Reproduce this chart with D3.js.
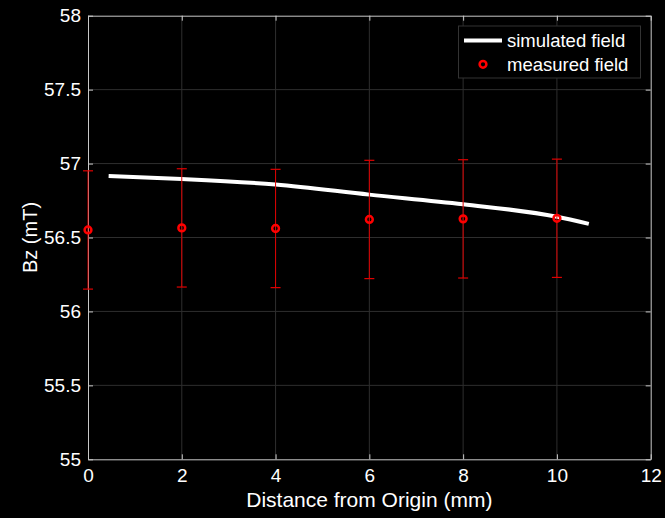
<!DOCTYPE html>
<html>
<head>
<meta charset="utf-8">
<script src="https://cdn.jsdelivr.net/npm/d3@7"></script>
<style>
  html, body { margin: 0; padding: 0; background: #000; }
  text { font-family: "Liberation Sans", Arial, sans-serif; }
</style>
</head>
<body>
<div id="chart"></div>
<script>
// measured points (x in mm, Bz in mT, +/- error)
const measuredX = [0, 2, 4, 6, 8, 10];
const measuredBz = [56.551, 56.565, 56.561, 56.622, 56.626, 56.630];
const measuredErr = [0.40, 0.40, 0.40, 0.40, 0.40, 0.40];

// simulated curve
const simX = [0.44, 2, 4, 6, 8, 10, 10.68];
const simBz = [56.916, 56.896, 56.858, 56.79, 56.725, 56.64, 56.592];

const xTicks = [0, 2, 4, 6, 8, 10, 12];
const yTicks = [55, 55.5, 56, 56.5, 57, 57.5, 58];

let width = 665, height = 518;
const margin = {left: 88, right: 14.3, top: 15.7, bottom: 58.7};

const svg = d3.select("#chart")
    .append("svg")
    .attr("width", width)
    .attr("height", height)
    .style("background", "#000");

const x = d3.scaleLinear().domain([0, 12]).range([margin.left, width - margin.right]);
const y = d3.scaleLinear().domain([55, 58]).range([height - margin.bottom, margin.top]);

const axisColor = "#c8c8c8";
const gridColor = "#2e2e2e";

// grid
svg.append("g")
    .selectAll("line")
    .data(xTicks.slice(1, -1))
    .join("line")
    .attr("x1", d => x(d)).attr("x2", d => x(d))
    .attr("y1", y(55)).attr("y2", y(58))
    .attr("stroke", gridColor).attr("stroke-width", 1);

svg.append("g")
    .selectAll("line")
    .data(yTicks.slice(1, -1))
    .join("line")
    .attr("x1", x(0)).attr("x2", x(12))
    .attr("y1", d => y(d)).attr("y2", d => y(d))
    .attr("stroke", gridColor).attr("stroke-width", 1);

// axes (ticks inward)
const styleAxis = g => {
    g.select(".domain").attr("stroke", axisColor);
    g.selectAll(".tick line").attr("stroke", axisColor);
    g.selectAll(".tick text").attr("fill", "#fff").attr("font-size", 19);
};

svg.append("g")
    .attr("transform", `translate(0,${y(55)})`)
    .call(d3.axisBottom(x).tickValues(xTicks).tickSize(-5).tickSizeOuter(0).tickPadding(9))
    .call(styleAxis)
    .call(g => g.selectAll(".tick text").attr("dy", "0.71em"));

svg.append("g")
    .attr("transform", `translate(${x(0)},0)`)
    .call(d3.axisLeft(y).tickValues(yTicks).tickSize(-5).tickSizeOuter(0).tickPadding(7).tickFormat(d3.format("")))
    .call(styleAxis);

svg.append("g")
    .attr("transform", `translate(0,${y(58)})`)
    .call(d3.axisTop(x).tickValues(xTicks).tickSize(-5).tickSizeOuter(0).tickFormat(""))
    .call(styleAxis);

svg.append("g")
    .attr("transform", `translate(${x(12)},0)`)
    .call(d3.axisRight(y).tickValues(yTicks).tickSize(-5).tickSizeOuter(0).tickFormat(""))
    .call(styleAxis);

// axis titles
svg.append("text")
    .attr("x", (x(0) + x(12)) / 2)
    .attr("y", 507)
    .attr("text-anchor", "middle")
    .attr("fill", "#fff")
    .attr("font-size", 21)
    .text("Distance from Origin (mm)");

svg.append("text")
    .attr("transform", `translate(37,${(y(55) + y(58)) / 2}) rotate(-90)`)
    .attr("text-anchor", "middle")
    .attr("fill", "#fff")
    .attr("font-size", 20)
    .text("Bz (mT)");

// simulated line
const line = d3.line()
    .x(d => x(d[0]))
    .y(d => y(d[1]))
    .curve(d3.curveMonotoneX);

svg.append("path")
    .datum(d3.zip(simX, simBz))
    .attr("d", line)
    .attr("fill", "none")
    .attr("stroke", "#fff")
    .attr("stroke-width", 4);

// error bars
const errColor = "#e00000";
const measured = measuredX.map((d, i) => ({x: d, bz: measuredBz[i], err: measuredErr[i]}));

const bars = svg.append("g").selectAll("g")
    .data(measured)
    .join("g");

bars.append("line")
    .attr("x1", d => x(d.x)).attr("x2", d => x(d.x))
    .attr("y1", d => y(d.bz - d.err)).attr("y2", d => y(d.bz + d.err))
    .attr("stroke", errColor).attr("stroke-width", 1);

bars.append("line")
    .attr("x1", d => x(d.x) - 5).attr("x2", d => x(d.x) + 5)
    .attr("y1", d => y(d.bz + d.err)).attr("y2", d => y(d.bz + d.err))
    .attr("stroke", errColor).attr("stroke-width", 1.2);

bars.append("line")
    .attr("x1", d => x(d.x) - 5).attr("x2", d => x(d.x) + 5)
    .attr("y1", d => y(d.bz - d.err)).attr("y2", d => y(d.bz - d.err))
    .attr("stroke", errColor).attr("stroke-width", 1.2);

bars.append("circle")
    .attr("cx", d => x(d.x))
    .attr("cy", d => y(d.bz))
    .attr("r", 3.4)
    .attr("fill", "none")
    .attr("stroke", "#ff0000")
    .attr("stroke-width", 2.5);

// legend
const legend = svg.append("g");
legend.append("rect")
    .attr("x", 458.5).attr("y", 26)
    .attr("width", 182).attr("height", 52)
    .attr("fill", "#000")
    .attr("stroke", "#333")
    .attr("stroke-width", 1);

legend.append("line")
    .attr("x1", 464).attr("x2", 502)
    .attr("y1", 40.5).attr("y2", 40.5)
    .attr("stroke", "#fff").attr("stroke-width", 4);

legend.append("circle")
    .attr("cx", 483).attr("cy", 64.3).attr("r", 3.4)
    .attr("fill", "none").attr("stroke", "#ff0000").attr("stroke-width", 2.5);

legend.append("text")
    .attr("x", 507).attr("y", 47)
    .attr("fill", "#fff").attr("font-size", 18.5)
    .text("simulated field");

legend.append("text")
    .attr("x", 507).attr("y", 71)
    .attr("fill", "#fff").attr("font-size", 18.5)
    .text("measured field");
</script>
</body>
</html>
